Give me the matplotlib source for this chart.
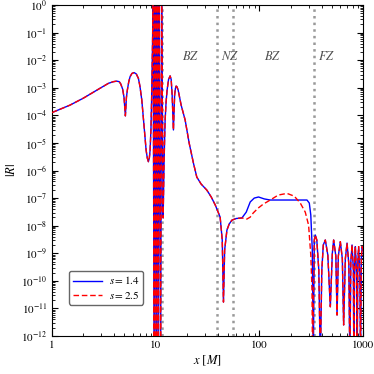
import numpy as np
import matplotlib
matplotlib.use('Agg')
import matplotlib.pyplot as plt
from matplotlib.ticker import LogLocator, FixedLocator, FixedFormatter, NullFormatter

plt.rcParams['font.family'] = 'STIXGeneral'
plt.rcParams['mathtext.fontset'] = 'stix'

# shared part of both curves (x in M, log10|R|)
x_common = [1.0, 1.49, 2.0, 2.9, 3.5, 3.9, 4.21, 4.45, 4.6, 4.8, 4.95, 5.1, 5.22, 5.33,
            5.5, 5.66, 5.9, 6.19, 6.5, 6.81, 7.05, 7.34, 7.73, 8.08, 8.3, 8.5, 8.68, 8.83,
            9.0, 9.13, 9.33, 9.44, 9.65, 9.87, 10.09, 10.32, 10.55, 10.78, 11.15, 11.4,
            11.79, 12.05, 12.32, 12.6, 12.88, 13.3, 13.77, 14.1, 14.4, 14.82, 15.22, 15.5,
            15.74, 16.0, 16.45, 17.59, 19.22, 21.0, 23.1, 24.9, 27.4, 31.1, 34.3, 37.5,
            41.8, 43.8, 45.0, 46.2, 48.6, 51.1, 54.3, 59.7, 67.8]
logr_common = [-3.90, -3.63, -3.38, -3.02, -2.84, -2.78, -2.76, -2.78, -2.86, -3.05, -3.35, -4.02,
               -3.35, -3.08, -2.78, -2.60, -2.48, -2.45, -2.50, -2.66, -2.95, -3.44, -4.41,
               -5.26, -5.55, -5.68, -5.55, -5.26, -4.5, -3.44, -1.27, 0.5, -13, 0.5, -13,
               0.5, -13, 0.5, -13, 0.5, -7.72, -5.62, -4.17, -3.5, -3.08, -2.7, -2.57, -2.7,
               -3.26, -4.53, -3.26, -3.02, -2.94, -2.96, -3.08, -3.63, -4.17, -5.0, -5.73,
               -6.24, -6.49, -6.71, -6.96, -7.25, -7.69, -8.52, -10.77, -8.88, -8.16, -7.94,
               -7.80, -7.74, -7.72]

# s = 1.4 between NZ and FZ
x_s14 = [74.6, 81.5, 89.1, 98.0, 111.3, 127.1, 198.3, 287.3, 302.5, 312.7, 323.3, 330.6]
logr_s14 = [-7.51, -7.14, -7.0, -6.96, -7.03, -7.07, -7.07, -7.07, -7.18, -7.61, -8.88, -13]

# s = 2.5 between NZ and FZ
x_s25 = [75.7, 81.5, 87.1, 97.4, 108.8, 127.1, 151.9, 184.3, 216.8, 247.6, 276.7, 297.8,
         312.7, 321.2, 325.4]
logr_s25 = [-7.76, -7.69, -7.54, -7.36, -7.22, -7.07, -6.89, -6.83, -6.93, -7.18, -7.51,
            -7.98, -9.06, -10.33, -13]

# far zone oscillations (both)
x_far = [338, 345.6, 357.4, 373.6, 386.3, 399.4, 412.8, 431.6, 456.3, 482.5, 504.4, 519.2,
         545.3, 560.1, 576.4, 602.6, 629.9, 648.4, 673.4, 699.3, 727.8, 744.1, 760.9, 781.5,
         804.4, 813.4, 827.9, 840.8, 865.5, 875.2, 888.9, 904.9, 929.3, 943.9, 960.8, 976, 1000]
logr_far = [-8.52, -8.34, -8.52, -9.61, -13, -9.61, -8.70, -8.52, -9.06, -10.94, -9.0, -8.52,
            -9.1, -11.24, -9.1, -8.58, -9.2, -11.6, -9.2, -8.63, -9.4, -13, -9.3, -8.70,
            -9.6, -13, -9.3, -8.76, -9.8, -13, -9.3, -8.76, -9.8, -13, -9.2, -8.76, -8.9]

zone_lines = [10.09, 11.6, 38.9, 55.9, 338]
zone_names = ['$BZ$', '$NZ$', '$BZ$', '$FZ$']
zone_x = [21.5, 51.7, 134, 441]

x14 = np.array(x_common + x_s14 + x_far)
r14 = 10.0 ** np.array(logr_common + logr_s14 + logr_far)
x25 = np.array(x_common + x_s25 + x_far)
r25 = 10.0 ** np.array(logr_common + logr_s25 + logr_far)

fig = plt.figure(figsize=(3.74, 3.74), dpi=100)
ax = fig.add_axes([0.139, 0.1016, 0.832, 0.885])

ax.axvspan(9.4, 11.1, color='mediumpurple', alpha=0.15, lw=0)
for xl in zone_lines:
    ax.axvline(xl, color='0.6', ls=':', lw=1.8, zorder=1)

ax.plot(x14, r14, color='blue', lw=1.0, label='$s = 1.4$', zorder=2)
ax.plot(x25, r25, color='red', lw=1.0, ls=(0, (4, 2)), label='$s = 2.5$', zorder=3)

for name, xz in zip(zone_names, zone_x):
    ax.text(xz, 0.0135, name, ha='center', va='center', fontsize=9, color='0.3')

ax.set_xscale('log')
ax.set_yscale('log')
ax.set_xlim(1, 1000)
ax.set_ylim(1e-12, 1)
ax.xaxis.set_major_locator(FixedLocator([1, 10, 100, 1000]))
ax.xaxis.set_major_formatter(FixedFormatter(['1', '10', '100', '1000']))
ax.xaxis.set_minor_locator(LogLocator(subs=np.arange(2, 10), numticks=50))
ax.xaxis.set_minor_formatter(NullFormatter())
ax.yaxis.set_major_locator(LogLocator(numticks=20))
ax.yaxis.set_minor_locator(LogLocator(subs=np.arange(2, 10), numticks=100))
ax.yaxis.set_minor_formatter(NullFormatter())
ax.tick_params(which='both', direction='in', top=True, right=True, labelsize=8)
ax.tick_params(which='major', length=4)
ax.tick_params(which='minor', length=2)

ax.set_xlabel('$x\\ [M]$', fontsize=9, labelpad=2)
ax.set_ylabel('$|R|$', fontsize=9, labelpad=2)

ax.legend(loc='lower left', bbox_to_anchor=(0.055, 0.095), fontsize=8, framealpha=1,
          edgecolor='0.4', handlelength=2.6, handletextpad=0.6, labelspacing=0.2,
          borderpad=0.35, borderaxespad=0)

fig.savefig('out.png', dpi=100)
